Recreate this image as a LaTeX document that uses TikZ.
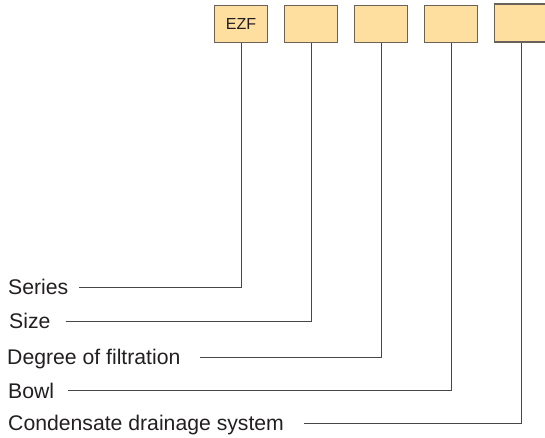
\documentclass[tikz,border=0pt]{standalone}
\usepackage{fontspec}
\setmainfont{Liberation Sans}
\usepackage{xcolor}
\usetikzlibrary{positioning,calc}
\definecolor{codefill}{RGB}{255,223,160}
\definecolor{codeedge}{RGB}{105,98,88}
\definecolor{leadline}{RGB}{70,70,70}
\definecolor{labeltext}{RGB}{35,31,32}
\tikzset{
  codebox/.style={rectangle, draw=codeedge, fill=codefill, line width=1.3pt, minimum width=53pt, minimum height=37pt, inner sep=0pt, text=labeltext, font=\fontsize{16}{18}\selectfont},
  keylabel/.style={anchor=west, inner sep=0pt, text height=15pt, text depth=0pt, text=labeltext, font=\fontsize{21.2}{25}\selectfont},
  lead/.style={draw=leadline, line width=1pt},
}
\begin{document}
\begin{tikzpicture}[x=1pt, y=-1pt]
  \useasboundingbox (0,0) rectangle (545,437);

  % code boxes
  \node[codebox] (bSeries) at (241,24) {EZF};
  \node[codebox] (bSize) at (311,24) {};
  \node[codebox] (bFilter) at (381,24) {};
  \node[codebox] (bBowl) at (451,24) {};
  \node[codebox, minimum height=38pt] (bDrain) at (521,23) {};

  % labels
  \node[keylabel] (lSeries) at (8,287) {Series};
  \node[keylabel] (lSize) at (9,321) {Size};
  \node[keylabel] (lFilter) at (7,357) {Degree of filtration};
  \node[keylabel] (lBowl) at (8,390.5) {Bowl};
  \node[keylabel] (lDrain) at (8,423) {Condensate drainage system};

  % leader lines
  \draw[lead] ([xshift=11pt]lSeries.east) -| (bSeries.south);
  \draw[lead] ([xshift=15pt]lSize.east) -| (bSize.south);
  \draw[lead] ([xshift=19pt]lFilter.east) -| (bFilter.south);
  \draw[lead] ([xshift=14pt]lBowl.east) -| (bBowl.south);
  \draw[lead] ([xshift=20pt]lDrain.east) -| (bDrain.south);

\end{tikzpicture}
\end{document}
